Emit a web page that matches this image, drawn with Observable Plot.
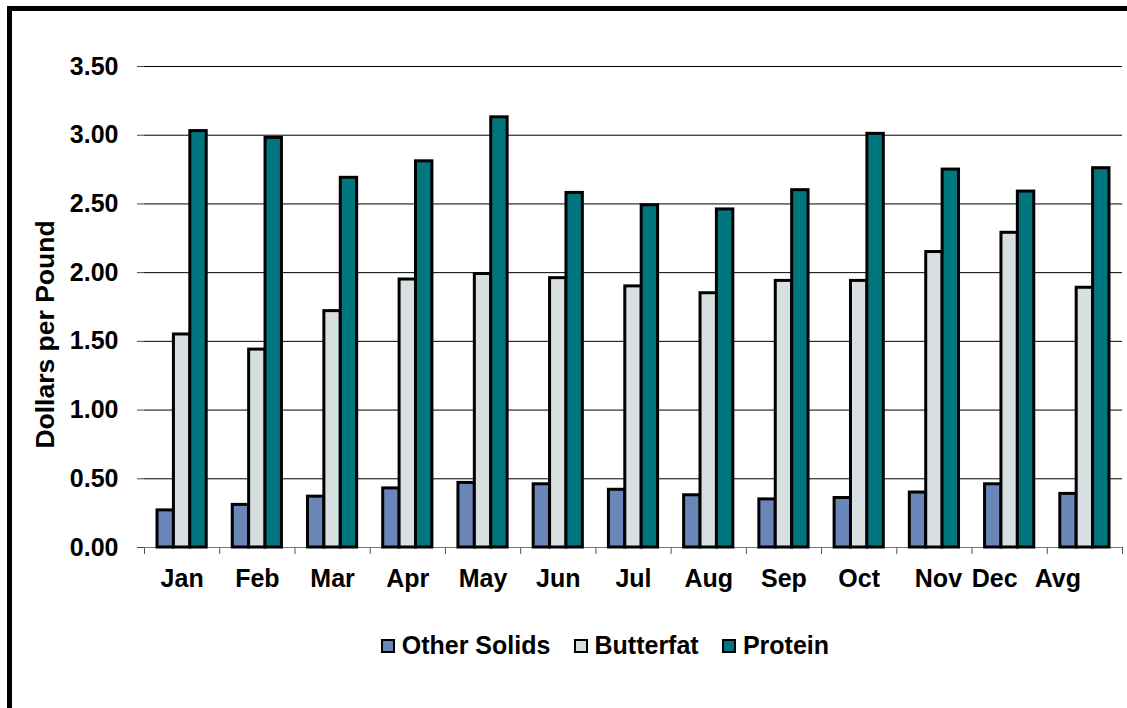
<!DOCTYPE html>
<html><head><meta charset="utf-8">
<script src="https://cdn.jsdelivr.net/npm/d3@7"></script>
<script src="https://cdn.jsdelivr.net/npm/@observablehq/plot@0.6"></script>
<style>
html,body{margin:0;padding:0;background:#fff;overflow:hidden;width:1127px;height:708px;}
#chart{position:absolute;left:0;top:0;}
#frame{position:absolute;left:7px;top:6px;width:2000px;height:2000px;border-left:5px solid #000;border-top:5px solid #000;box-sizing:border-box;pointer-events:none;}
#legend{position:absolute;left:381px;top:631px;display:flex;align-items:center;font:bold 25px "Liberation Sans",Arial,sans-serif;line-height:29px;color:#000;}
.item{display:flex;align-items:center;margin-right:23.5px;}
.sw{width:10px;height:10px;border:2px solid #000;margin-right:6.7px;}
</style></head><body>
<div id="chart"></div>
<div id="legend"></div>
<div id="frame"></div>
<script>
const months = ["Jan","Feb","Mar","Apr","May","Jun","Jul","Aug","Sep","Oct","Nov","Dec","Avg"];
const seriesNames = ["Other Solids","Butterfat","Protein"];
const otherSolids = [0.27,0.31,0.37,0.43,0.47,0.46,0.42,0.38,0.35,0.36,0.40,0.46,0.39];
const butterfat   = [1.55,1.44,1.72,1.95,1.99,1.96,1.90,1.85,1.94,1.94,2.15,2.29,1.89];
const protein     = [3.03,2.98,2.69,2.81,3.13,2.58,2.49,2.46,2.60,3.01,2.75,2.59,2.76];
const yTicks = [0,0.5,1,1.5,2,2.5,3,3.5];
const yLabel = "Dollars per Pound";
const colors = ["#6A85B8","#D8DFE1","#00777F"];

const seriesValues = [otherSolids, butterfat, protein];
const rows = months.flatMap((m, i) => seriesNames.map((s, j) => ({month: m, series: s, value: seriesValues[j][i]})));

const W = 1127, H = 620, mL = 144, mR = 5, mT = 66, mB = 73;
const bw = (W - mL - mR) / months.length;
const barW = 16.4;
const pad0 = (bw - seriesNames.length * barW) / 2;
const labelShift = {Nov: 4, Dec: -15, Avg: -27};
const font = '"Liberation Sans", Arial, sans-serif';

const bars = seriesNames.map((s, j) => Plot.barY(rows.filter(d => d.series === s), {
  x: "month", y: "value", fill: "series", stroke: "#000", strokeWidth: 3,
  insetLeft: pad0 + j * barW, insetRight: bw - pad0 - (j + 1) * barW
}));

const plainLabels = months.filter(m => !(m in labelShift));
const shiftedLabels = months.filter(m => m in labelShift).map(m =>
  Plot.axisX({ticks: [m], tickSize: 0, tickPadding: 22, dx: labelShift[m], label: null, fontSize: 25, fontWeight: "bold"}));

const chart = Plot.plot({
  width: W, height: H,
  marginLeft: mL, marginRight: mR, marginTop: mT, marginBottom: mB,
  style: {fontFamily: font, fontSize: "25px", fontWeight: "bold", background: "transparent", color: "#000"},
  x: {type: "band", domain: months, padding: 0, round: false, label: null},
  y: {domain: [0, 3.5], label: null},
  color: {domain: seriesNames, range: colors},
  marks: [
    Plot.gridY({ticks: yTicks, stroke: "#000", strokeOpacity: 1, strokeWidth: 1}),
    Plot.ruleY([0], {stroke: "#777", strokeWidth: 1.2}),
    ...bars,
    Plot.axisY({ticks: yTicks, tickSize: 7, tickPadding: 19, tickFormat: d3.format(".2f"), label: null, stroke: "#444", fontSize: 25, fontWeight: "bold"}),
    Plot.axisX({ticks: plainLabels, tickSize: 0, tickPadding: 22, label: null, fontSize: 25, fontWeight: "bold"}),
    ...shiftedLabels,
    Plot.axisX({ticks: months, tickSize: 7, tickFormat: () => "", dx: -bw / 2, label: null, stroke: "#555"}),
    Plot.axisX({ticks: [months[months.length - 1]], tickSize: 7, tickFormat: () => "", dx: bw / 2, label: null, stroke: "#555"}),
    Plot.text([yLabel], {frameAnchor: "left", textAnchor: "middle", lineAnchor: "middle", text: d => d, rotate: -90, dx: -99, dy: 27.5, fontSize: 26.5, fontWeight: "bold", fill: "#000"})
  ]
});
document.getElementById("chart").appendChild(chart);

const legend = document.getElementById("legend");
seriesNames.forEach((s, j) => {
  const item = document.createElement("div");
  item.className = "item";
  const sw = document.createElement("span");
  sw.className = "sw";
  sw.style.background = colors[j];
  const t = document.createElement("span");
  t.textContent = s;
  item.appendChild(sw); item.appendChild(t);
  legend.appendChild(item);
});
</script>
</body></html>
